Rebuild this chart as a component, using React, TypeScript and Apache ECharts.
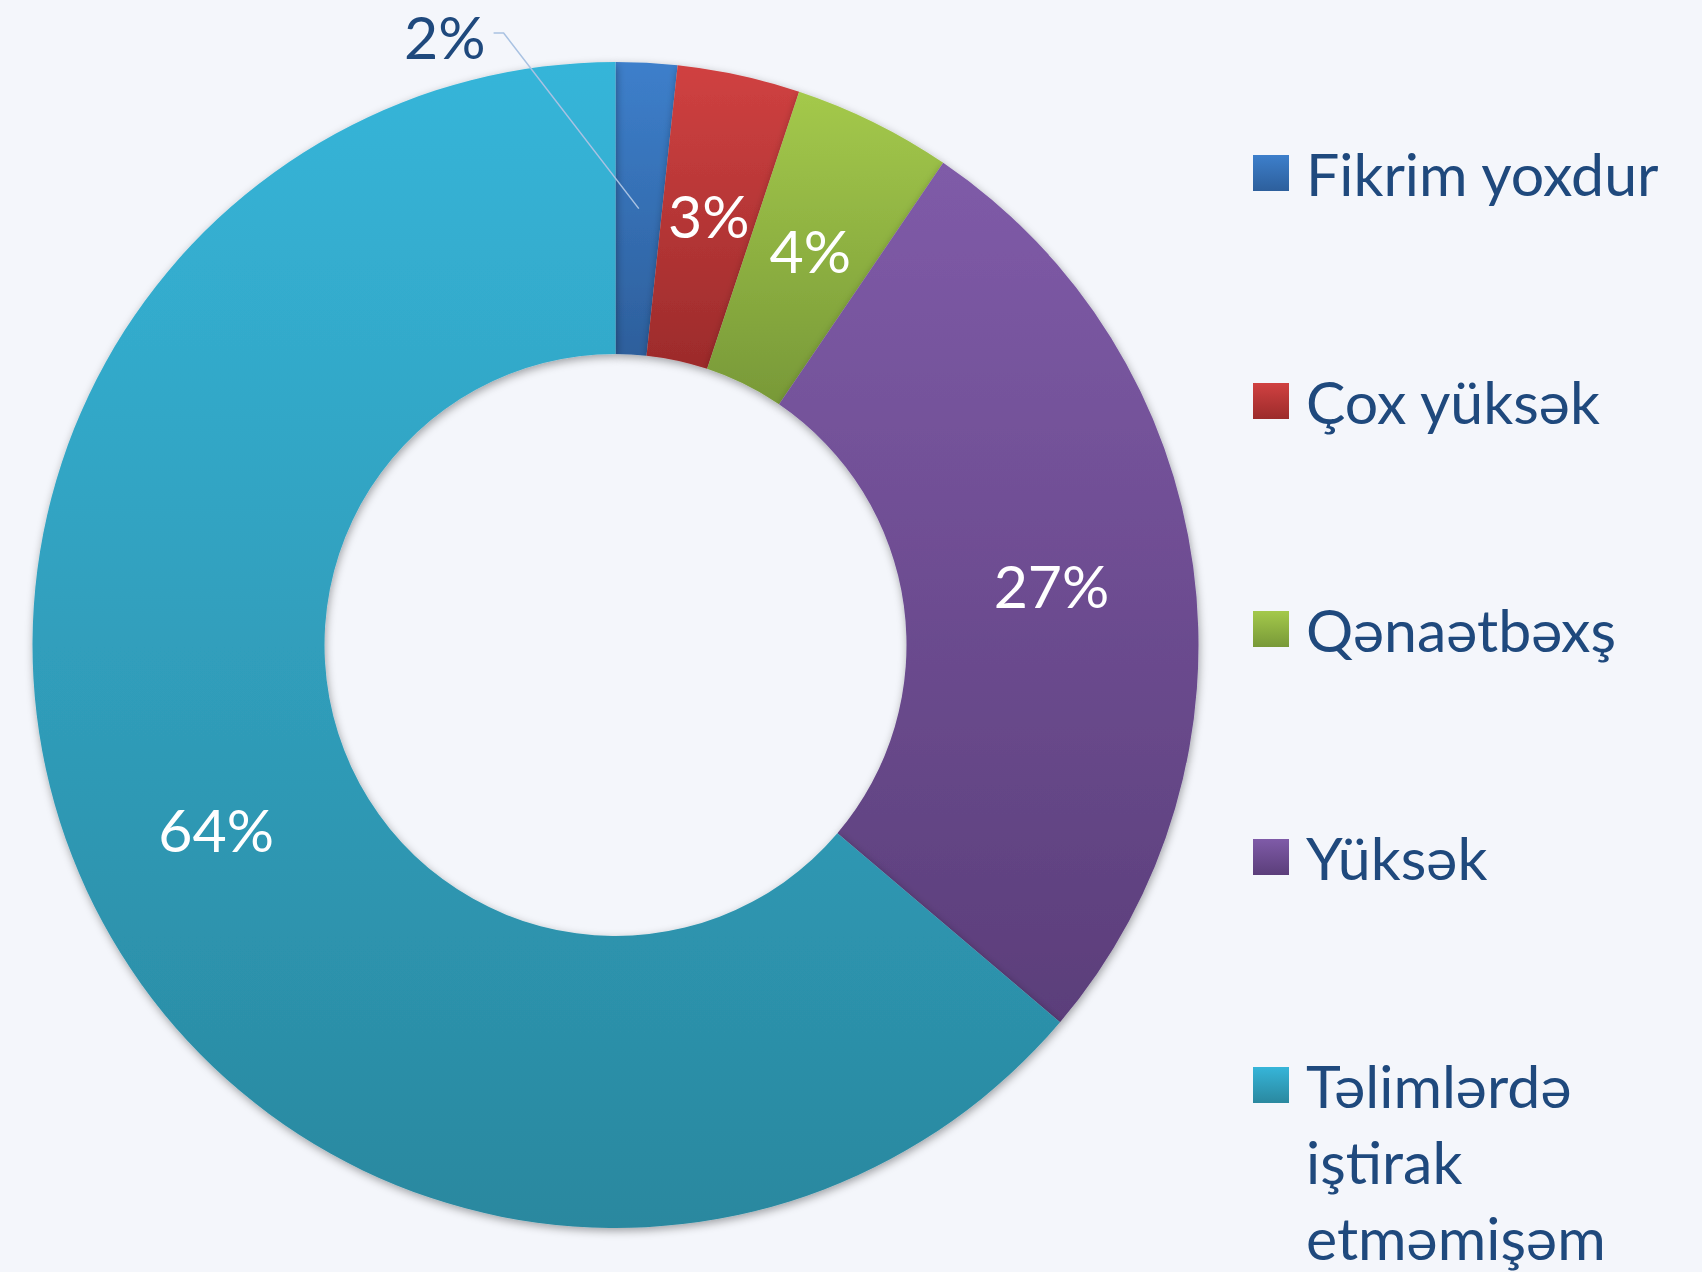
import React, { useEffect, useRef } from "react";
import * as echarts from "echarts";

const categories = ["Fikrim yoxdur", "Çox yüksək", "Qənaətbəxş", "Yüksək", "Təlimlərdə iştirak etməmişəm"];
const values = [1.7, 3.4, 4.4, 26.7, 63.8];
const topColors = ["#3d7fcb", "#d04141", "#a4c94b", "#7f5ba8", "#36b5d9"];
const bottomColors = ["#2d5f9c", "#9c2b2b", "#789938", "#5b3e7a", "#2a889f"];
const legendCenters = [173, 401, 629, 857, 1085];

const CX = 615.5;
const CY = 645;
const R_OUT = 583;
const R_IN = 291;
const FONT = "Lato, 'Open Sans', sans-serif";
const TEXT_COLOR = "#1f497d";
const FONT_SIZE = 59;
const LINE_H = 76;

export default function App() {
  const ref = useRef<HTMLDivElement>(null);
  useEffect(() => {
    document.body.style.margin = "0";
    const chart = echarts.init(ref.current!, null, { renderer: "svg" });
    const total = values.reduce((a, b) => a + b, 0);
    const grad = (i: number) =>
      new echarts.graphic.LinearGradient(0, 0, 0, 1, [
        { offset: 0, color: topColors[i] },
        { offset: 1, color: bottomColors[i] },
      ]);

    // leader line for the first (small) slice, from mid-radius of its mid-angle
    const mid = (values[0] / total / 2) * Math.PI * 2;
    const rm = (R_IN + R_OUT) / 2;
    const sx = CX + rm * Math.sin(mid);
    const sy = CY - rm * Math.cos(mid);
    const cornerY = 33;
    const cornerX = sx - (sy - cornerY) * 0.77;
    const endX = cornerX - 10;

    const data = categories.map((name, i) => {
      const item: any = { name, value: values[i], itemStyle: { color: grad(i) } };
      if (i === 0) {
        item.label = { position: "outside", color: TEXT_COLOR };
        item.labelLine = { show: false };
      }
      return item;
    });
    const legends = categories.map((name, i) => {
      const multi = i === categories.length - 1;
      const boxH = multi ? LINE_H * 5 : LINE_H;
      return {
        show: true,
        orient: "vertical",
        left: 1253,
        top: legendCenters[i] - boxH / 2,
        padding: 0,
        icon: "rect",
        itemWidth: 36,
        itemHeight: 36,
        data: [name],
        selectedMode: false,
        formatter: (n: string) => (multi ? "\n\n" + n.split(" ").join("\n") : n),
        textStyle: {
          fontFamily: FONT,
          fontSize: FONT_SIZE,
          color: TEXT_COLOR,
          lineHeight: LINE_H,
          padding: [0, 0, 0, 12],
        },
      };
    });
    chart.setOption({
      animation: false,
      backgroundColor: "#f4f6fb",
      legend: legends,
      graphic: [
        {
          type: "polyline",
          z: 100,
          silent: true,
          shape: {
            points: [
              [sx, sy],
              [cornerX, cornerY],
              [endX, cornerY],
            ],
          },
          style: { stroke: "#a9c2e2", lineWidth: 1.5, fill: null },
        },
      ],
      series: [
        {
          type: "pie",
          center: [CX, CY],
          radius: [R_IN, R_OUT],
          startAngle: 90,
          clockwise: true,
          avoidLabelOverlap: false,
          data,
          itemStyle: {
            shadowBlur: 8,
            shadowColor: "rgba(0,0,0,0.35)",
            shadowOffsetX: 1,
            shadowOffsetY: 3,
          },
          label: {
            show: true,
            position: "inside",
            color: "#ffffff",
            fontFamily: FONT,
            fontSize: FONT_SIZE,
            formatter: (p: any) => Math.round((p.value / total) * 100) + "%",
          },
          labelLine: { show: false },
          emphasis: { disabled: true },
          labelLayout: (params: any) => {
            if (params.dataIndex !== 0) return {};
            return {
              x: endX - 8,
              y: cornerY + 3,
              align: "right",
              verticalAlign: "middle",
            };
          },
        },
      ],
    });
    return () => chart.dispose();
  }, []);
  return <div ref={ref} style={{ width: 1702, height: 1272 }} />;
}
